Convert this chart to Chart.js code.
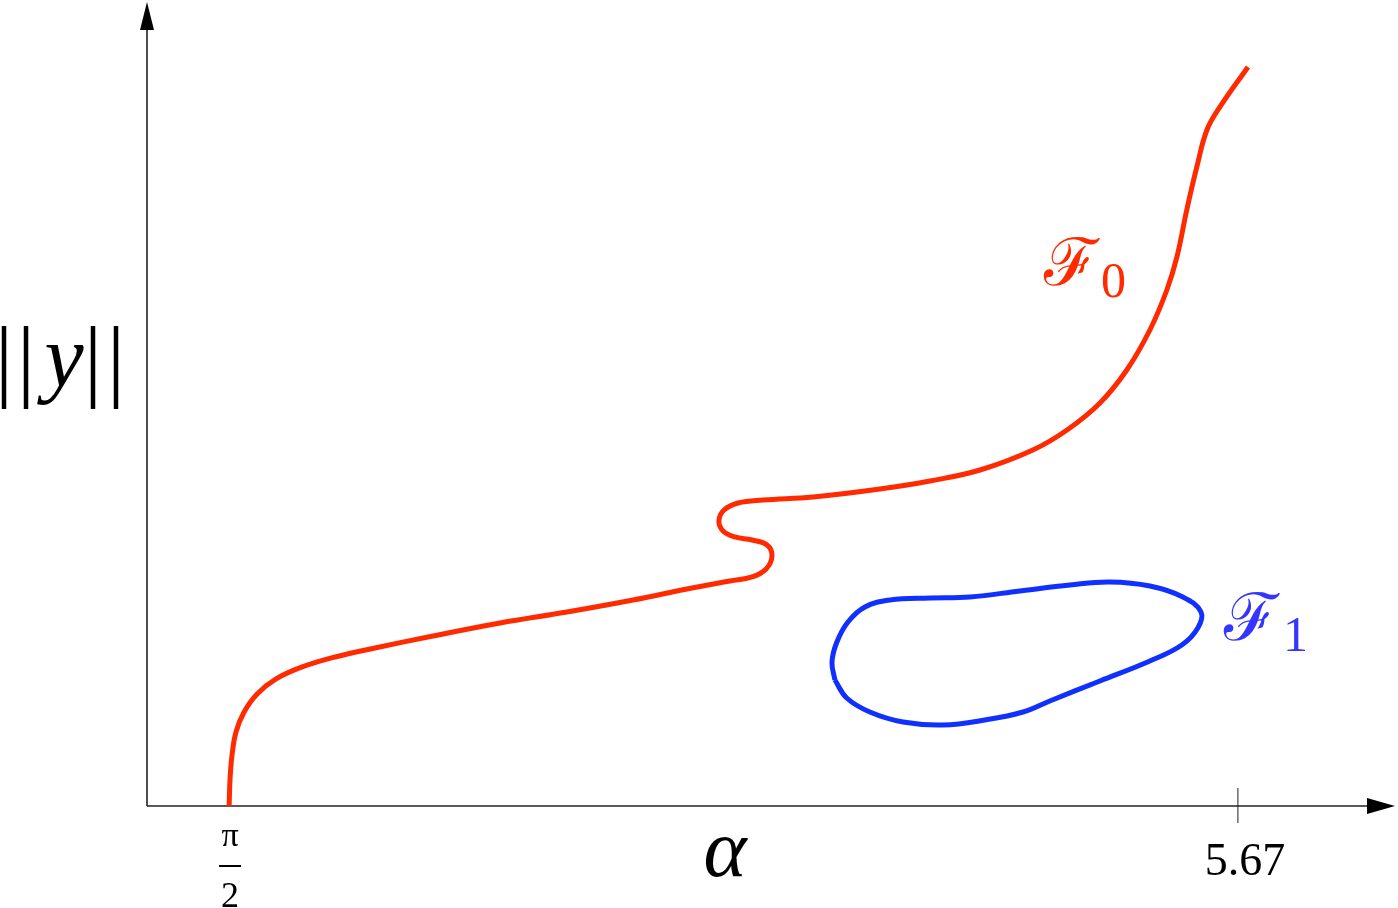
<!DOCTYPE html>
<html>
<head>
<meta charset="utf-8">
<script src="https://cdn.jsdelivr.net/npm/chart.js@4.4.1/dist/chart.umd.min.js"></script>
<style>
  html, body { margin: 0; padding: 0; background: #ffffff; }
  #wrap { width: 1398px; height: 908px; position: relative; }
</style>
</head>
<body>
<div id="wrap"><canvas id="c"></canvas></div>
<script>
// ---- data (alpha on x, ||y|| on y, arbitrary units) ----
const f0Alpha = [1.567, 1.571, 1.579, 1.595, 1.628, 1.681, 1.758, 1.864, 1.998, 2.160, 2.396, 2.669, 2.941, 3.210, 3.429, 3.604, 3.694, 3.751, 3.775, 3.755, 3.694, 3.624, 3.576, 3.559, 3.580, 3.637, 3.738, 3.942, 4.214, 4.418, 4.621, 4.836, 4.975, 5.109, 5.218, 5.312, 5.381, 5.422, 5.462, 5.503, 5.544, 5.597, 5.711];
const f0Norm  = [0.000, 0.350, 0.640, 0.925, 1.175, 1.400, 1.588, 1.738, 1.863, 1.975, 2.125, 2.288, 2.425, 2.575, 2.713, 2.813, 2.863, 2.963, 3.125, 3.263, 3.325, 3.363, 3.438, 3.563, 3.700, 3.788, 3.825, 3.863, 3.963, 4.063, 4.200, 4.450, 4.700, 5.038, 5.450, 5.950, 6.450, 6.863, 7.450, 7.988, 8.450, 8.738, 9.238];

const f1Alpha = [4.031, 4.019, 4.039, 4.084, 4.153, 4.255, 4.418, 4.580, 4.783, 4.987, 5.149, 5.312, 5.446, 5.520, 5.507, 5.442, 5.312, 5.109, 4.905, 4.796, 4.641, 4.470, 4.308, 4.173, 4.079, 4.031];
const f1Norm  = [1.575, 1.800, 2.050, 2.300, 2.488, 2.575, 2.600, 2.613, 2.688, 2.763, 2.800, 2.750, 2.613, 2.425, 2.225, 2.013, 1.813, 1.563, 1.313, 1.175, 1.075, 1.013, 1.050, 1.175, 1.350, 1.575];

const xTickValues = [Math.PI / 2, 5.67];
const xTickLabels = ["π/2", "5.67"];
const xAxisTitle = "α";
const xAxisTitleAt = 3.592;
const yAxisTitle = "||y||";
const seriesNames = ["ℱ", "ℱ"];
const seriesSubs = ["0", "1"];

const xMin = 1.233, xMax = 6.309, yMin = 0, yMax = 10.05;

const toPts = (xs, ys) => xs.map((x, i) => ({ x: x, y: ys[i] }));

const RED = '#ff2a00';
const BLUE = '#0f30ff';
const SERIF = '"Liberation Serif", "DejaVu Serif", serif';

const axesPlugin = {
  id: 'axesPlugin',
  beforeDatasetsDraw(chart) {
    const ctx = chart.ctx;
    const xs = chart.scales.x, ys = chart.scales.y;
    const x0 = xs.getPixelForValue(xMin);
    const x1 = xs.getPixelForValue(xMax);
    const y0 = ys.getPixelForValue(0);
    const y1 = ys.getPixelForValue(yMax);
    ctx.save();
    ctx.strokeStyle = '#222';
    ctx.fillStyle = '#000';
    ctx.lineWidth = 1.6;
    ctx.beginPath(); ctx.moveTo(x0, y0); ctx.lineTo(x1 - 20, y0); ctx.stroke();
    ctx.beginPath(); ctx.moveTo(x1, y0); ctx.lineTo(x1 - 28, y0 - 8); ctx.lineTo(x1 - 28, y0 + 8); ctx.closePath(); ctx.fill();
    ctx.beginPath(); ctx.moveTo(x0, y0); ctx.lineTo(x0, y1 + 20); ctx.stroke();
    ctx.beginPath(); ctx.moveTo(x0, y1); ctx.lineTo(x0 - 7, y1 + 28); ctx.lineTo(x0 + 7, y1 + 28); ctx.closePath(); ctx.fill();
    const tx = xs.getPixelForValue(xTickValues[1]);
    ctx.lineWidth = 1;
    ctx.beginPath(); ctx.moveTo(tx, y0 - 18); ctx.lineTo(tx, y0 + 17); ctx.stroke();
    ctx.restore();
  },
  afterDatasetsDraw(chart) {
    const ctx = chart.ctx;
    const xs = chart.scales.x, ys = chart.scales.y;
    const y0 = ys.getPixelForValue(0);
    ctx.save();
    ctx.fillStyle = '#000';
    ctx.textAlign = 'center';
    ctx.textBaseline = 'alphabetic';
    // pi/2 fraction
    const px = xs.getPixelForValue(xTickValues[0]);
    const parts = xTickLabels[0].split('/');
    ctx.font = '34px ' + SERIF;
    ctx.fillText(parts[0], px, y0 + 40);
    ctx.fillRect(px - 11, y0 + 59, 22, 2);
    ctx.font = '36px ' + SERIF;
    ctx.fillText(parts[1], px, y0 + 101);
    // 5.67
    const tx = xs.getPixelForValue(xTickValues[1]);
    ctx.font = '46px ' + SERIF;
    ctx.fillText(xTickLabels[1], tx + 7, y0 + 69);
    // alpha
    ctx.font = 'italic 82px ' + SERIF;
    ctx.fillText(xAxisTitle, xs.getPixelForValue(xAxisTitleAt) - 2, y0 + 70);
    // ||y||
    const bars = yAxisTitle.split('y');
    ctx.textAlign = 'center';
    ctx.textBaseline = 'alphabetic';
    ctx.font = '90px ' + SERIF;
    ctx.fillText(bars[0][0], 4, 390);
    ctx.fillText(bars[0][1], 26, 390);
    ctx.fillText(bars[1][0], 93, 390);
    ctx.fillText(bars[1][1], 116, 390);
    ctx.font = 'italic 88px ' + SERIF;
    ctx.fillText('y', 64, 386);
    // series labels
    ctx.textAlign = 'left';
    ctx.fillStyle = RED;
    ctx.font = '66px "DejaVu Serif", serif';
    ctx.fillText(seriesNames[0], 1044, 285);
    ctx.font = '50px ' + SERIF;
    ctx.fillText(seriesSubs[0], 1101, 297);
    ctx.fillStyle = '#3535ff';
    ctx.font = '66px "DejaVu Serif", serif';
    ctx.fillText(seriesNames[1], 1224, 640);
    ctx.font = '50px ' + SERIF;
    ctx.fillText(seriesSubs[1], 1283, 651);
    ctx.restore();
  }
};

new Chart(document.getElementById('c'), {
  type: 'scatter',
  data: {
    datasets: [
      { label: 'F0', data: toPts(f0Alpha, f0Norm), showLine: true, borderColor: RED, borderWidth: 5,
        pointRadius: 0, tension: 0.4, fill: false, clip: false },
      { label: 'F1', data: toPts(f1Alpha, f1Norm), showLine: true, borderColor: BLUE, borderWidth: 5,
        pointRadius: 0, tension: 0.4, fill: false, clip: false }
    ]
  },
  options: {
    responsive: true,
    maintainAspectRatio: false,
    animation: false,
    layout: { padding: { left: 147, right: 3, top: 2, bottom: 102 } },
    plugins: { legend: { display: false }, tooltip: { enabled: false } },
    scales: {
      x: { type: 'linear', min: xMin, max: xMax, display: false },
      y: { type: 'linear', min: yMin, max: yMax, display: false }
    }
  },
  plugins: [axesPlugin]
});
</script>
</body>
</html>
